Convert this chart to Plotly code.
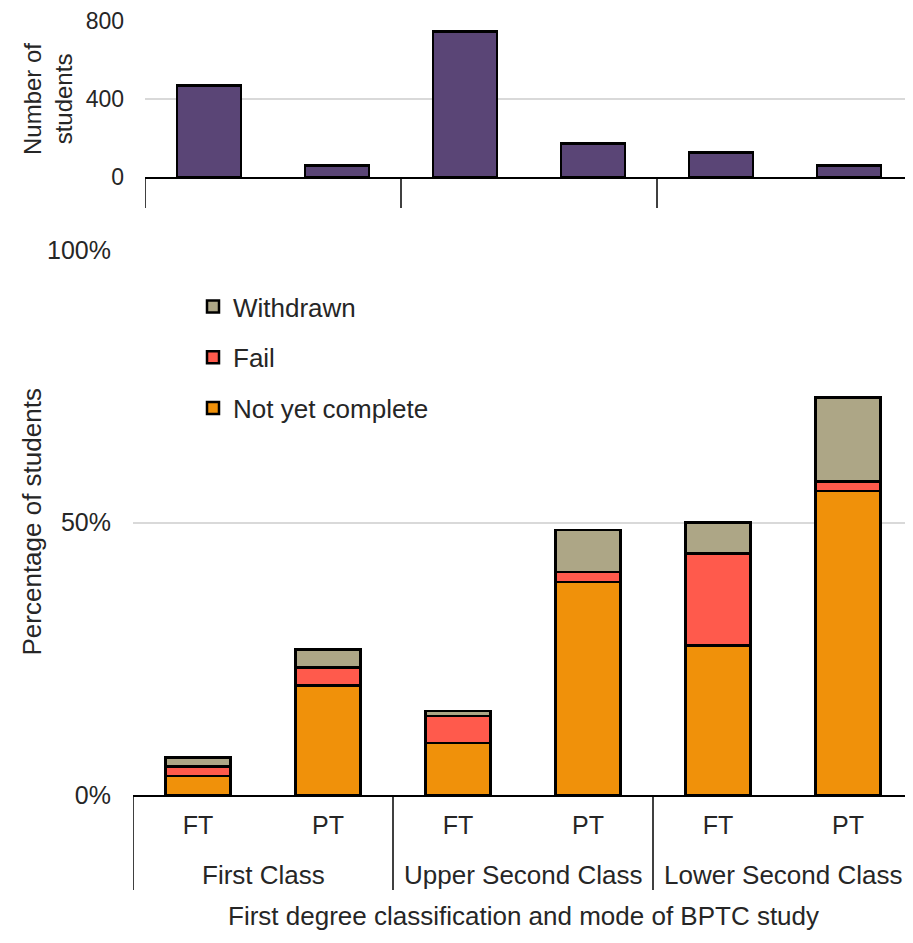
import plotly.graph_objects as go

# ---- data ----
modes = ["FT", "PT", "FT", "PT", "FT", "PT"]
groups = ["First Class", "Upper Second Class", "Lower Second Class"]
n_students = [468, 60, 746, 172, 126, 60]
not_yet_complete = [0.035, 0.201, 0.095, 0.391, 0.274, 0.558]
fail = [0.017, 0.033, 0.050, 0.018, 0.169, 0.017]
withdrawn = [0.017, 0.033, 0.009, 0.077, 0.057, 0.154]
y2_ticks = [0, 400, 800]
y_ticks = [0, 0.5, 1.0]
y_ticktext = ["0%", "50%", "100%"]

FONT = "Liberation Sans, Arial, sans-serif"
TXT = "#262626"
OFF = 8                     # page body margin
W, H = 913 - OFF, 943 - 2 * OFF
L = 133 - OFF               # left margin (page x = 133)
x_pos = list(range(len(modes)))
BAR_LINE = dict(color="black", width=2.5)


def py(page_y):
    """paper y fraction from page y pixel"""
    return (H - (page_y - OFF)) / H


def px(page_x):
    """paper x fraction from page x pixel"""
    return (page_x - OFF - L) / (W - L)


fig = go.Figure()

fig.add_trace(go.Bar(x=x_pos, y=not_yet_complete, name="Not yet complete",
                     marker=dict(color="#F0910A", line=BAR_LINE),
                     legendgroup="a", legendrank=3, xaxis="x", yaxis="y"))
fig.add_trace(go.Bar(x=x_pos, y=fail, name="Fail",
                     marker=dict(color="#FF5A4C", line=BAR_LINE),
                     legendgroup="b", legendrank=2, xaxis="x", yaxis="y"))
fig.add_trace(go.Bar(x=x_pos, y=withdrawn, name="Withdrawn",
                     marker=dict(color="#ADA686", line=BAR_LINE),
                     legendgroup="c", legendrank=1, xaxis="x", yaxis="y"))

fig.add_trace(go.Bar(x=x_pos, y=n_students, showlegend=False,
                     marker=dict(color="#5A4576", line=BAR_LINE),
                     xaxis="x2", yaxis="y2"))

shapes = []
for b in [-0.5, 1.5, 3.5, 5.5]:
    shapes.append(dict(type="line", xref="x", yref="y domain", x0=b, x1=b,
                       y0=0, y1=-95 / 545, line=dict(color="black", width=1.5)))
    shapes.append(dict(type="line", xref="x2", yref="y2 domain", x0=b, x1=b,
                       y0=0, y1=-31 / 156, line=dict(color="black", width=1.5)))

annotations = []
for i, g in enumerate(groups):
    annotations.append(dict(text=g, xref="x", yref="paper", x=2 * i + 0.5,
                            y=py(875), showarrow=False, yanchor="middle",
                            font=dict(family=FONT, size=26, color=TXT)))
annotations.append(dict(text="First degree classification and mode of BPTC study",
                        xref="x domain", yref="paper", x=0.5, y=py(916),
                        showarrow=False, yanchor="middle",
                        font=dict(family=FONT, size=26, color=TXT)))
annotations.append(dict(text="Percentage of students", textangle=-90,
                        xref="paper", yref="y domain", x=px(31), y=0.5,
                        showarrow=False, xanchor="center", yanchor="middle",
                        font=dict(family=FONT, size=26, color=TXT)))
annotations.append(dict(text="Number of<br>students", textangle=-90,
                        xref="paper", yref="y2 domain", x=px(48), y=0.5,
                        showarrow=False, xanchor="center", yanchor="middle",
                        font=dict(family=FONT, size=24, color=TXT)))

fig.update_layout(
    width=W, height=H,
    margin=dict(l=L, r=0, t=0, b=0, autoexpand=False),
    paper_bgcolor="white", plot_bgcolor="white",
    barmode="stack", bargap=0.5,
    font=dict(family=FONT, size=26, color=TXT),
    xaxis=dict(domain=[0, 1], range=[-0.5, 5.5], tickvals=x_pos, ticktext=modes,
               showgrid=False, showline=True, linecolor="black", linewidth=2,
               ticks="", ticklabelstandoff=7, zeroline=False, automargin=False,
               tickfont=dict(family=FONT, size=25, color=TXT)),
    yaxis=dict(domain=[py(795), py(250)], range=[0, 1], tickvals=y_ticks,
               ticktext=y_ticktext, showgrid=True, gridcolor="#D9D9D9", gridwidth=1.5,
               showline=False, zeroline=False, ticks="", ticklabelstandoff=21,
               automargin=False,
               tickfont=dict(family=FONT, size=25, color=TXT)),
    xaxis2=dict(domain=[px(145), 1], range=[-0.5, 5.5], anchor="y2",
                showticklabels=False, showgrid=False, showline=True,
                linecolor="black", linewidth=2, ticks="", zeroline=False,
                automargin=False),
    yaxis2=dict(domain=[py(177), py(21)], range=[0, 800], anchor="x2",
                tickvals=y2_ticks, showgrid=True, gridcolor="#D9D9D9", gridwidth=1.5,
                showline=False, zeroline=False, ticks="", ticklabelstandoff=20,
                automargin=False,
                tickfont=dict(family=FONT, size=23, color=TXT)),
    legend=dict(x=px(193), y=py(283), xref="paper", yref="paper",
                xanchor="left", yanchor="top", traceorder="grouped",
                tracegroupgap=14, bgcolor="rgba(0,0,0,0)",
                font=dict(family=FONT, size=26, color=TXT),
                itemwidth=30),
    shapes=shapes, annotations=annotations,
)

fig.write_html("out.html")
